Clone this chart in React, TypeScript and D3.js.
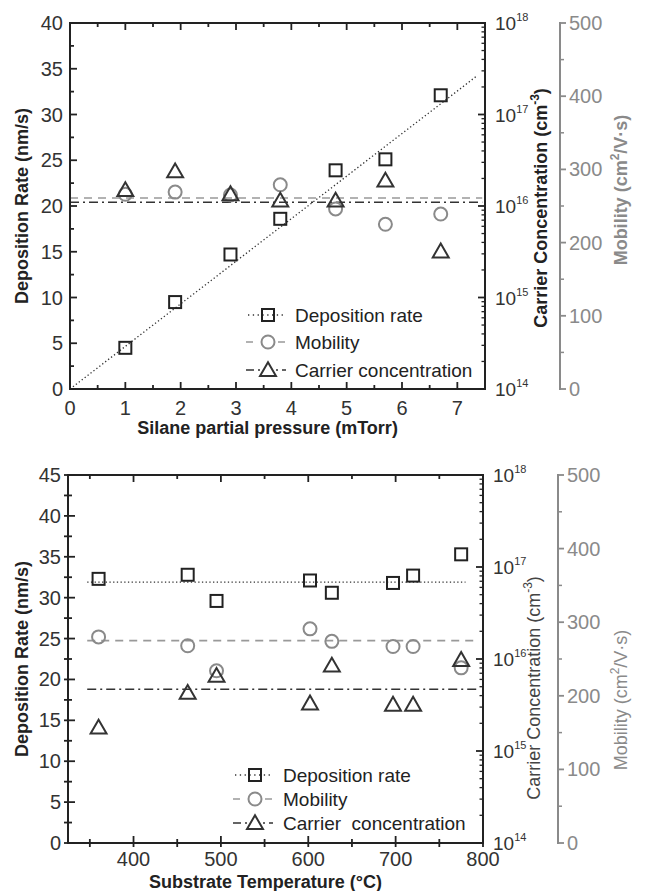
import React, { useRef, useEffect } from 'react';
import * as d3 from 'd3';

// upper panel: silane partial pressure (mTorr)
const pressure = [1.0, 1.9, 2.9, 3.8, 4.8, 5.7, 6.7];
const rateByPressure = [4.5, 9.5, 14.7, 18.6, 23.9, 25.1, 32.1];
const mobilityByPressure = [266, 269, 265, 279, 246, 225, 239];
const carrierByPressure = [1.5e16, 2.4e16, 1.35e16, 1.15e16, 1.15e16, 1.9e16, 3.2e15];
const rateFitPressure: [number, number][] = [[0, 0], [7.35, 34.2]];
const mobilityFitPressure: [number, number][] = [[0, 261], [7.45, 261]];
const carrierFitPressure: [number, number][] = [[0, 1.1e16], [7.45, 1.1e16]];

// lower panel: substrate temperature (°C)
const temperature = [360, 462, 495, 602, 627, 697, 720, 775];
const rateByTemp = [32.3, 32.8, 29.6, 32.1, 30.6, 31.8, 32.7, 35.3];
const mobilityByTemp = [280, 268, 234, 291, 274, 267, 267, 238];
const carrierByTemp = [1.8e15, 4.3e15, 6.6e15, 3.3e15, 8.5e15, 3.2e15, 3.2e15, 9.8e15];
const rateFitTemp: [number, number][] = [[347, 31.9], [780, 31.9]];
const mobilityFitTemp: [number, number][] = [[347, 275], [790, 275]];
const carrierFitTemp: [number, number][] = [[347, 4.7e15], [795, 4.7e15]];

const pressureTicks = [0, 1, 2, 3, 4, 5, 6, 7];
const pressureMinor = d3.range(0.5, 7.5, 1);
const tempTicks = [400, 500, 600, 700, 800];
const tempMinor = [350, 450, 550, 650, 750];
const rateTicksTop = d3.range(0, 41, 5);
const rateTicksBottom = d3.range(0, 46, 5);
const mobilityTicks = [0, 100, 200, 300, 400, 500];
const carrierDecades = [14, 15, 16, 17, 18];
const legendTop = ['Deposition rate', 'Mobility', 'Carrier concentration'];
const legendBottom = ['Deposition rate', 'Mobility', 'Carrier  concentration'];

const FONT = '"Liberation Sans", Arial, sans-serif';
const INK = '#222';
const GREY = '#8a8a8a';

type Panel = {
  left: number; right: number; top: number; bottom: number;
  xDomain: [number, number]; yMax: number;
  xTicks: number[]; xMinor: number[]; yTicks: number[];
  xs: number[]; rate: number[]; mobility: number[]; carrier: number[];
  rateFit: [number, number][]; mobilityFit: [number, number][]; carrierFit: [number, number][];
  legend: string[]; legendX: number; legendTextX: number; legendY: number[];
  xTitle: string; xTitleY: number; xLabelDy: number; bold: boolean; crossTicks: boolean;
  carrierTitleX: number; carrierTitleY: number; mobilityTitleX: number; mobilityTitleY: number;
};

function tick(g: any, x1: number, y1: number, x2: number, y2: number, color = INK, w = 1.8) {
  return g.append('line').attr('x1', x1).attr('y1', y1).attr('x2', x2).attr('y2', y2)
    .attr('stroke', color).attr('stroke-width', w);
}

function square(g: any, cx: number, cy: number) {
  g.append('rect').attr('x', cx - 6).attr('y', cy - 6).attr('width', 12).attr('height', 12)
    .attr('fill', 'none').attr('stroke', INK).attr('stroke-width', 2);
}
function circle(g: any, cx: number, cy: number) {
  g.append('circle').attr('cx', cx).attr('cy', cy).attr('r', 6.5)
    .attr('fill', 'none').attr('stroke', GREY).attr('stroke-width', 2);
}
function triangle(g: any, cx: number, cy: number) {
  const s = d3.symbol().type(d3.symbolTriangle).size(110);
  g.append('path').attr('d', s()).attr('transform', `translate(${cx},${cy + 1.5})`)
    .attr('fill', 'none').attr('stroke', '#333').attr('stroke-width', 2);
}

function drawPanel(svg: any, p: Panel) {
  const g = svg.append('g');
  const x = d3.scaleLinear().domain(p.xDomain).range([p.left, p.right]);
  const y = d3.scaleLinear().domain([0, p.yMax]).range([p.bottom, p.top]);
  const yc = d3.scaleLog().domain([1e14, 1e18]).range([p.bottom, p.top]);
  const ym = d3.scaleLinear().domain([0, 500]).range([p.bottom, p.top]);
  const mobAxisX = p.right + 75;

  // fit lines
  const line = d3.line();
  g.append('path').attr('d', line(p.rateFit.map(d => [x(d[0]), y(d[1])])))
    .attr('fill', 'none').attr('stroke', '#333').attr('stroke-width', 1.3).attr('stroke-dasharray', '1.3,2.4');
  g.append('path').attr('d', line(p.mobilityFit.map(d => [x(d[0]), ym(d[1])])))
    .attr('fill', 'none').attr('stroke', '#999').attr('stroke-width', 1.6).attr('stroke-dasharray', '8,6');
  g.append('path').attr('d', line(p.carrierFit.map(d => [x(d[0]), yc(d[1])])))
    .attr('fill', 'none').attr('stroke', '#333').attr('stroke-width', 1.5).attr('stroke-dasharray', '9,4,2,4');

  // markers
  p.xs.forEach((v, i) => circle(g, x(v), ym(p.mobility[i])));
  p.xs.forEach((v, i) => triangle(g, x(v), yc(p.carrier[i])));
  p.xs.forEach((v, i) => square(g, x(v), y(p.rate[i])));

  // frame
  g.append('path').attr('d', `M${p.left},${p.top}H${p.right}V${p.bottom}H${p.left}Z`)
    .attr('fill', 'none').attr('stroke', INK).attr('stroke-width', 2);

  const out = p.crossTicks ? 4 : 0;
  // x ticks
  p.xTicks.forEach(v => {
    tick(g, x(v), p.bottom + out, x(v), p.bottom - 7);
    tick(g, x(v), p.top, x(v), p.top + 7);
  });
  p.xMinor.forEach(v => {
    tick(g, x(v), p.bottom + out, x(v), p.bottom - 4);
    tick(g, x(v), p.top, x(v), p.top + 4);
  });
  g.selectAll('.xl').data(p.xTicks).join('text')
    .attr('x', d => x(d)).attr('y', p.bottom + p.xLabelDy).attr('text-anchor', 'middle')
    .attr('font-family', FONT).attr('font-size', 20).attr('fill', '#333').text(d => d);

  // left ticks
  const half = p.yTicks[1] / 2;
  p.yTicks.forEach(v => tick(g, p.left - out, y(v), p.left + 7, y(v)));
  d3.range(half, p.yMax, p.yTicks[1]).forEach(v => tick(g, p.left - out, y(v), p.left + 4, y(v)));
  g.selectAll('.yl').data(p.yTicks).join('text')
    .attr('x', p.left - 7).attr('y', d => y(d) + 7).attr('text-anchor', 'end')
    .attr('font-family', FONT).attr('font-size', 20).attr('fill', '#333').text(d => d);

  // carrier log axis on the right edge
  carrierDecades.forEach(e => {
    tick(g, p.right, yc(10 ** e), p.right - 7, yc(10 ** e));
    if (e < 18) d3.range(2, 10).forEach(m => tick(g, p.right, yc(m * 10 ** e), p.right - 3.5, yc(m * 10 ** e), INK, 1.3));
    const t = g.append('text').attr('x', p.right + 10).attr('y', yc(10 ** e) + 7)
      .attr('font-family', FONT).attr('font-size', 19).attr('fill', '#333');
    t.append('tspan').text('10');
    t.append('tspan').attr('dy', -9).attr('font-size', 11).text(e);
  });

  // mobility axis
  tick(g, mobAxisX, p.top - 1, mobAxisX, p.bottom + 1, GREY, 2);
  mobilityTicks.forEach(v => tick(g, mobAxisX - 1, ym(v), mobAxisX + 6, ym(v), GREY, 1.8));
  [50, 150, 250, 350, 450].forEach(v => tick(g, mobAxisX, ym(v), mobAxisX + 4, ym(v), GREY, 1.5));
  g.selectAll('.ml').data(mobilityTicks).join('text')
    .attr('x', mobAxisX + 9).attr('y', d => ym(d) + 7)
    .attr('font-family', FONT).attr('font-size', 20).attr('fill', GREY).text(d => d);

  // titles
  const weight = p.bold ? 'bold' : 'normal';
  g.append('text').attr('x', (p.left + p.right) / 2 - 10).attr('y', p.xTitleY).attr('text-anchor', 'middle')
    .attr('font-family', FONT).attr('font-size', 18).attr('font-weight', 'bold').attr('fill', '#222').text(p.xTitle);
  g.append('text').attr('transform', `translate(28,${(p.top + p.bottom) / 2}) rotate(-90)`)
    .attr('text-anchor', 'middle').attr('font-family', FONT).attr('font-size', 18).attr('font-weight', 'bold')
    .attr('fill', '#222').text('Deposition Rate (nm/s)');
  const ct = g.append('text').attr('transform', `translate(${p.carrierTitleX},${p.carrierTitleY}) rotate(-90)`)
    .attr('text-anchor', 'middle').attr('font-family', FONT).attr('font-size', 18).attr('font-weight', weight)
    .attr('fill', p.bold ? '#222' : '#444');
  ct.append('tspan').text('Carrier Concentration (cm');
  ct.append('tspan').attr('dy', -8).attr('font-size', 12).text('-3');
  ct.append('tspan').attr('dy', 8).text(')');
  const mt = g.append('text').attr('transform', `translate(${p.mobilityTitleX},${p.mobilityTitleY}) rotate(-90)`)
    .attr('text-anchor', 'middle').attr('font-family', FONT).attr('font-size', 18).attr('font-weight', weight)
    .attr('fill', GREY);
  mt.append('tspan').text('Mobility (cm');
  mt.append('tspan').attr('dy', -8).attr('font-size', 12).text('2');
  mt.append('tspan').attr('dy', 8).text('/V·s)');

  // legend
  const lx = p.legendX;
  const rows = p.legend.map((name, i) => ({ name, y: p.legendY[i] }));
  tick(g, lx - 20, rows[0].y, lx + 16, rows[0].y, '#333', 1.3).attr('stroke-dasharray', '1.3,3.5');
  square(g, lx, rows[0].y);
  g.append('line').attr('x1', lx - 22).attr('y1', rows[1].y).attr('x2', lx + 18).attr('y2', rows[1].y)
    .attr('stroke', '#999').attr('stroke-width', 1.6).attr('stroke-dasharray', '7,9');
  g.append('rect').attr('x', lx - 8).attr('y', rows[1].y - 8).attr('width', 16).attr('height', 16).attr('fill', '#fff');
  circle(g, lx, rows[1].y);
  g.append('line').attr('x1', lx - 22).attr('y1', rows[2].y).attr('x2', lx + 18).attr('y2', rows[2].y)
    .attr('stroke', '#333').attr('stroke-width', 1.5).attr('stroke-dasharray', '8,4,2,4');
  g.append('rect').attr('x', lx - 8).attr('y', rows[2].y - 9).attr('width', 16).attr('height', 15).attr('fill', '#fff');
  triangle(g, lx, rows[2].y);
  g.selectAll('.lg').data(rows).join('text')
    .attr('x', p.legendTextX).attr('y', d => d.y + 7).attr('font-family', FONT).attr('font-size', 19)
    .attr('fill', '#222').style('white-space', 'pre').text(d => d.name);
}

const upper: Panel = {
  left: 70, right: 485, top: 23, bottom: 389,
  xDomain: [0, 7.5], yMax: 40, xTicks: pressureTicks, xMinor: pressureMinor, yTicks: rateTicksTop,
  xs: pressure, rate: rateByPressure, mobility: mobilityByPressure, carrier: carrierByPressure,
  rateFit: rateFitPressure, mobilityFit: mobilityFitPressure, carrierFit: carrierFitPressure,
  legend: legendTop, legendX: 268, legendTextX: 295, legendY: [315, 342, 370],
  xTitle: 'Silane partial pressure (mTorr)', xTitleY: 434, xLabelDy: 26, bold: true, crossTicks: false,
  carrierTitleX: 547, carrierTitleY: 208, mobilityTitleX: 627, mobilityTitleY: 190,
};

const lower: Panel = {
  left: 68, right: 483, top: 475, bottom: 843,
  xDomain: [325, 800], yMax: 45, xTicks: tempTicks, xMinor: tempMinor, yTicks: rateTicksBottom,
  xs: temperature, rate: rateByTemp, mobility: mobilityByTemp, carrier: carrierByTemp,
  rateFit: rateFitTemp, mobilityFit: mobilityFitTemp, carrierFit: carrierFitTemp,
  legend: legendBottom, legendX: 255, legendTextX: 283, legendY: [775, 799, 823],
  xTitle: 'Substrate Temperature (°C)', xTitleY: 888, xLabelDy: 23, bold: false, crossTicks: true,
  carrierTitleX: 540, carrierTitleY: 688, mobilityTitleX: 627, mobilityTitleY: 700,
};

const App: React.FC = () => {
  const svgRef = useRef<SVGSVGElement | null>(null);

  useEffect(() => {
    const svg = d3.select(svgRef.current!);
    svg.selectAll('*').remove();
    svg.append('rect').attr('width', 647).attr('height', 891).attr('fill', '#fff');
    drawPanel(svg, upper);
    drawPanel(svg, lower);
  }, []);

  return (
    <svg ref={svgRef} width={647} height={891}
      style={{ position: 'absolute', left: 0, top: 0, display: 'block' }} />
  );
};

export default App;
